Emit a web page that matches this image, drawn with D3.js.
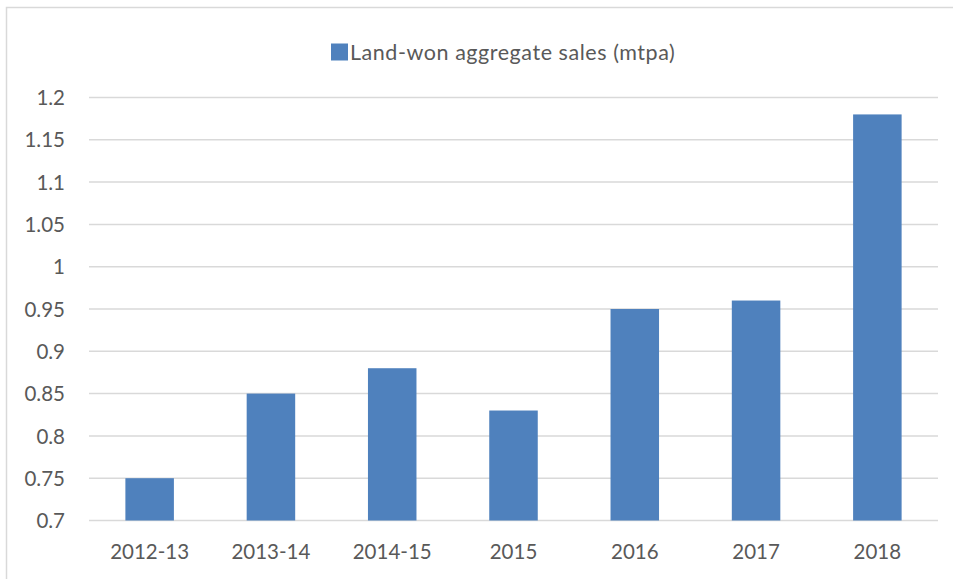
<!DOCTYPE html>
<html><head><meta charset="utf-8">
<script src="https://cdn.jsdelivr.net/npm/d3@7"></script>
<style>body{margin:0;background:#fff}svg{display:block}</style>
</head><body>
<svg id="c" width="953" height="579"></svg>
<script>
const categories = ["2012-13","2013-14","2014-15","2015","2016","2017","2018"];
const values = [0.75,0.85,0.88,0.83,0.95,0.96,1.18];
const yTicks = [0.7,0.75,0.8,0.85,0.9,0.95,1,1.05,1.1,1.15,1.2];
const seriesName = "Land-won aggregate sales (mtpa)";

(function(){
const svg = d3.select("#c");
const font = "Lato, Calibri, 'Open Sans', sans-serif";
const txt = "#595959";
// chart border (partially cropped)
svg.append("rect").attr("x",6.5).attr("y",7.5).attr("width",1000).attr("height",1000)
  .attr("fill","none").attr("stroke","#D9D9D9").attr("stroke-width",1.5);

const pLeft=89, pRight=938, pTop=97.5, pBottom=520.5;
const x = d3.scaleBand().domain(categories).range([pLeft,pRight]).paddingInner(0.6).paddingOuter(0.3);
const y = d3.scaleLinear().domain([0.7,1.2]).range([pBottom,pTop]);

const g = svg.append("g");
g.selectAll("line.grid").data(yTicks).join("line")
  .attr("x1",pLeft).attr("x2",pRight).attr("y1",d=>y(d)).attr("y2",d=>y(d))
  .attr("stroke","#D9D9D9").attr("stroke-width",1.5);

const yAxis = d3.axisLeft(y).tickValues(yTicks).tickSize(0).tickPadding(0).tickFormat(d=>String(+d.toFixed(2)));
const ya = svg.append("g").attr("transform",`translate(65,0)`).call(yAxis);
ya.select(".domain").remove();
ya.selectAll("text").attr("fill",txt).style("font-family",font).style("font-size","20.5px").attr("dy","0.35em");

g.selectAll("rect.bar").data(values).join("rect")
  .attr("x",(d,i)=>x(categories[i])).attr("width",x.bandwidth())
  .attr("y",d=>y(d)).attr("height",d=>y(0.7)-y(d)).attr("fill","#4F81BD");

const xAxis = d3.axisBottom(x).tickSize(0).tickPadding(0);
const xa = svg.append("g").attr("transform",`translate(0,552)`).call(xAxis);
xa.select(".domain").remove();
xa.selectAll("text").attr("fill",txt).style("font-family",font).style("font-size","20.5px").attr("dy","0.35em");

// legend
svg.append("rect").attr("x",331).attr("y",43.5).attr("width",17).attr("height",17).attr("fill","#4F81BD");
svg.append("text").attr("x",350).attr("y",52).attr("dy","0.35em").attr("fill",txt)
  .style("font-family",font).style("font-size","21.5px").style("letter-spacing","0.55px").text(seriesName);
})();
</script>
</body></html>
